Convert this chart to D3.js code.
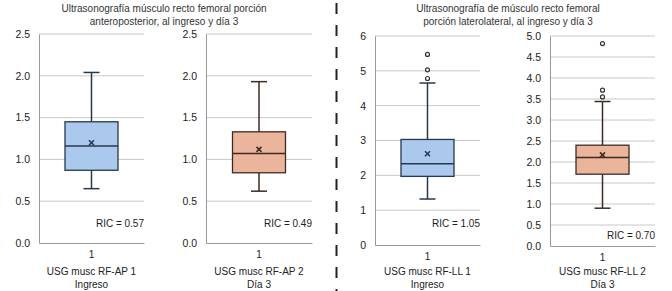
<!DOCTYPE html>
<html>
<head>
<meta charset="utf-8">
<script src="https://cdn.jsdelivr.net/npm/d3@7"></script>
<style>
  body { margin: 0; background: #fff; }
  svg { display: block; font-family: "Liberation Sans", Arial, sans-serif; }
</style>
</head>
<body>
<div id="chart"></div>
<script>
// values
const categories = ["USG musc RF-AP 1", "USG musc RF-AP 2", "USG musc RF-LL 1", "USG musc RF-LL 2"];
const subLabels = ["Ingreso", "Día 3", "Ingreso", "Día 3"];
const mins = [0.65, 0.62, 1.32, 0.90];
const q1s = [0.87, 0.84, 1.97, 1.71];
const medians = [1.16, 1.07, 2.33, 2.11];
const q3s = [1.45, 1.33, 3.03, 2.40];
const maxs = [2.04, 1.93, 4.65, 3.44];
const means = [1.20, 1.12, 2.62, 2.17];
const outliers = [[], [], [4.78, 5.03, 5.47], [3.55, 3.71, 4.82]];
const ricLabels = ["RIC = 0.57", "RIC = 0.49", "RIC = 1.05", "RIC = 0.70"];
const yMaxes = [2.5, 2.5, 6, 5];
const yTicks = [
  [0, 0.5, 1, 1.5, 2, 2.5],
  [0, 0.5, 1, 1.5, 2, 2.5],
  [0, 1, 2, 3, 4, 5, 6],
  [0, 0.5, 1, 1.5, 2, 2.5, 3, 3.5, 4, 4.5, 5]
];
const tickFormats = [".1f", ".1f", "d", ".1f"];
const titles = [
  ["Ultrasonografía músculo recto femoral porción", "anteroposterior, al ingreso y día 3"],
  ["Ultrasonografía de músculo recto femoral", "porción laterolateral, al ingreso y día 3"]
];

const width = 672, height = 291;
const fs = 10;
const fills = ["#aac9ec", "#ebb59b", "#aac9ec", "#ebb59b"];
const strokes = ["#26384c", "#3d2a24", "#26384c", "#3d2a24"];

// plot areas: [left, right, bottom, top]
const panels = [
  [39, 144, 243, 34],
  [206, 312, 243, 34],
  [375, 480, 245, 36],
  [550, 655, 246, 36]
];

const svg = d3.select("#chart").append("svg")
  .attr("width", width).attr("height", height);

// titles
[[164, titles[0]], [508, titles[1]]].forEach(([cx, lines]) => {
  lines.forEach((t, i) => {
    svg.append("text").attr("x", cx).attr("y", 12 + i * 12.5)
      .attr("text-anchor", "middle").attr("font-size", fs).attr("fill", "#333")
      .text(t);
  });
});

// dashed separator
svg.append("line").attr("x1", 336.5).attr("x2", 336.5).attr("y1", 3).attr("y2", 291)
  .attr("stroke", "#222").attr("stroke-width", 2).attr("stroke-dasharray", "11,11");

categories.forEach((cat, i) => {
  const [left, right, bottom, top] = panels[i];
  const y = d3.scaleLinear().domain([0, yMaxes[i]]).range([bottom, top]);
  const x = d3.scaleBand().domain(["1"]).range([left, right]).paddingInner(0).paddingOuter(0.5);
  const g = svg.append("g");

  // gridlines
  g.append("g").selectAll("line").data(yTicks[i].filter(d => d > 0)).enter().append("line")
    .attr("x1", left).attr("x2", right)
    .attr("y1", d => y(d)).attr("y2", d => y(d))
    .attr("stroke", "#c8c8c8").attr("stroke-width", 1);

  // y axis
  const ya = g.append("g").attr("transform", `translate(${left},0)`)
    .call(d3.axisLeft(y).tickValues(yTicks[i]).tickFormat(d3.format(tickFormats[i])).tickSize(0).tickPadding(9));
  ya.select(".domain").attr("stroke", "#999");
  ya.selectAll("text").attr("font-size", fs + 0.5).attr("fill", "#222").attr("font-family", "Liberation Sans, Arial, sans-serif");

  // x axis
  const xa = g.append("g").attr("transform", `translate(0,${bottom})`)
    .call(d3.axisBottom(x).tickSize(0).tickPadding(8).tickSizeOuter(0));
  xa.select(".domain").attr("stroke", "#999");
  xa.selectAll("text").attr("font-size", fs).attr("fill", "#222").attr("font-family", "Liberation Sans, Arial, sans-serif");

  const cx = x("1") + x.bandwidth() / 2;
  const bw = 53, cap = 16;
  const st = strokes[i];

  // whiskers
  g.append("line").attr("x1", cx).attr("x2", cx).attr("y1", y(maxs[i])).attr("y2", y(q3s[i]))
    .attr("stroke", st).attr("stroke-width", 1.5);
  g.append("line").attr("x1", cx).attr("x2", cx).attr("y1", y(q1s[i])).attr("y2", y(mins[i]))
    .attr("stroke", st).attr("stroke-width", 1.5);
  [maxs[i], mins[i]].forEach(v => {
    g.append("line").attr("x1", cx - cap / 2).attr("x2", cx + cap / 2)
      .attr("y1", y(v)).attr("y2", y(v)).attr("stroke", st).attr("stroke-width", 1.5);
  });

  // box
  g.append("rect").attr("x", cx - bw / 2).attr("width", bw)
    .attr("y", y(q3s[i])).attr("height", y(q1s[i]) - y(q3s[i]))
    .attr("fill", fills[i]).attr("stroke", st).attr("stroke-width", 1.3);
  g.append("line").attr("x1", cx - bw / 2).attr("x2", cx + bw / 2)
    .attr("y1", y(medians[i])).attr("y2", y(medians[i]))
    .attr("stroke", st).attr("stroke-width", 1.5);

  // mean marker
  const my = y(means[i]), s = 2.5;
  g.append("path").attr("d", `M${cx - s},${my - s}L${cx + s},${my + s}M${cx - s},${my + s}L${cx + s},${my - s}`)
    .attr("stroke", st).attr("stroke-width", 1.5);

  // outliers
  g.selectAll("circle.out").data(outliers[i]).enter().append("circle")
    .attr("class", "out").attr("cx", cx).attr("cy", d => y(d)).attr("r", 2)
    .attr("fill", "#fff").attr("stroke", "#333").attr("stroke-width", 1.2);

  // RIC label
  g.append("text").attr("x", right).attr("y", i === 3 ? 239 : 227)
    .attr("text-anchor", "end").attr("font-size", fs).attr("fill", "#222")
    .text(ricLabels[i]);

  // category labels
  const mid = (left + right) / 2;
  g.append("text").attr("x", mid).attr("y", 275).attr("text-anchor", "middle")
    .attr("font-size", fs).attr("fill", "#222").text(cat);
  g.append("text").attr("x", mid).attr("y", 288).attr("text-anchor", "middle")
    .attr("font-size", fs).attr("fill", "#222").text(subLabels[i]);
});
</script>
</body>
</html>
